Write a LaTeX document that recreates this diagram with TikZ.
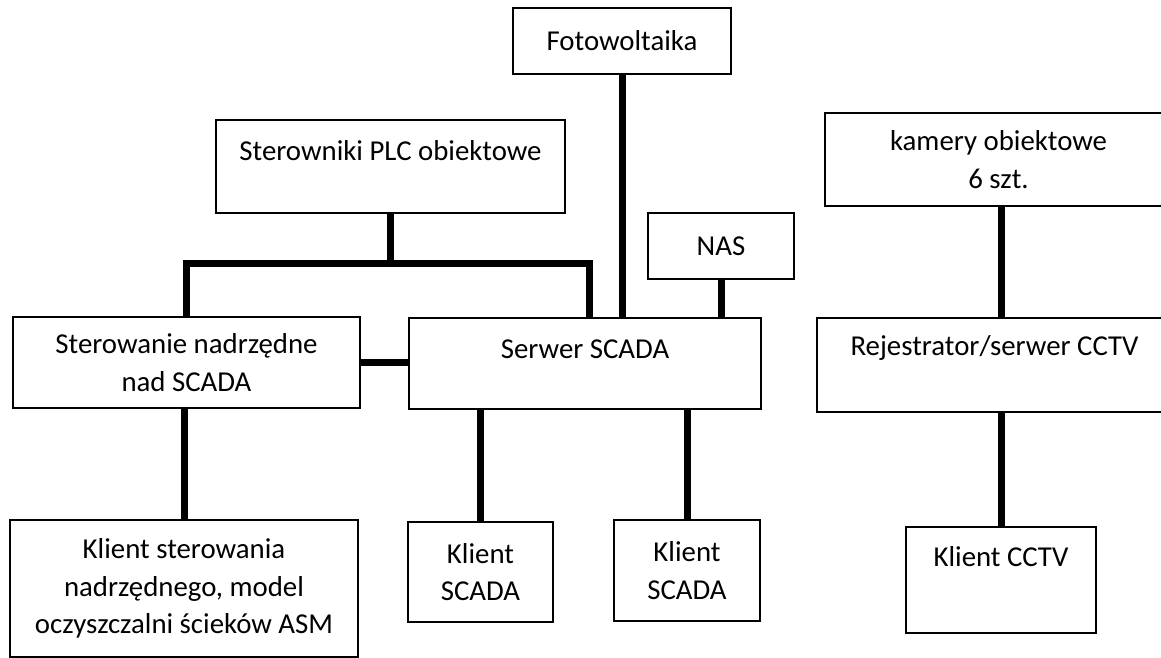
\documentclass[tikz,border=0pt]{standalone}
\usepackage{fontspec}
\setmainfont{Carlito}
\usetikzlibrary{positioning,calc}

\begin{document}
\begin{tikzpicture}[font=\fontsize{20.5}{26.8}\selectfont,
  blk/.style={draw,line width=0.55mm,inner sep=2pt,align=center},
  lbl/.style={inner sep=0pt,align=center},
  link/.style={line width=1.75mm,line join=miter}]
  \useasboundingbox (0,0) rectangle (290.25mm,-164.5mm);
  \clip (0,0) rectangle (290.25mm,-164.5mm);
  % ---- upper row ----
  \node[blk,minimum width=54.5mm,minimum height=16.5mm]
     (foto) at (155.5mm,-10.25mm) {Fotowoltaika};
  \node[blk,minimum width=87.25mm,minimum height=23.25mm]
     (plc) at (97.625mm,-41.625mm) {};
  \node[lbl] at ($(plc.center)+(0,4.1mm)$) {Sterowniki PLC obiektowe};
  \node[blk,minimum width=36.5mm,minimum height=16.5mm]
     (nas) at (180.25mm,-61.5mm) {NAS};
  \node[blk,minimum width=86.75mm,minimum height=23.25mm]
     (kam) at (249.625mm,-39.875mm) {kamery obiektowe\\6 szt.};
  % ---- middle row ----
  \node[blk,minimum width=86.75mm,minimum height=22.75mm]
     (ster) at (46.625mm,-90.625mm) {Sterowanie nadrzędne\\nad SCADA};
  \node[blk,minimum width=88mm,minimum height=22.75mm]
     (serw) at (146.25mm,-90.875mm) {};
  \node[lbl] at ($(serw.center)+(0,3.6mm)$) {Serwer SCADA};
  \node[blk,minimum width=88.75mm,minimum height=23.5mm]
     (rej) at (248.625mm,-91.25mm) {};
  \node[lbl] at ($(rej.center)+(0,4.25mm)$) {Rejestrator/serwer CCTV};
  % ---- lower row ----
  \node[blk,minimum width=87mm,minimum height=34.25mm] (kster) at (46mm,-147.125mm)
     {Klient sterowania\\nadrzędnego, model\\oczyszczalni ścieków ASM};
  \node[blk,minimum width=36.25mm,minimum height=25mm]
     (kscada1) at (120.125mm,-143mm) {Klient\\SCADA};
  \node[blk,minimum width=36.5mm,minimum height=25.25mm]
     (kscada2) at (171.75mm,-142.625mm) {Klient\\SCADA};
  \node[blk,minimum width=47.5mm,minimum height=26.5mm]
     (kcctv) at (250.25mm,-145mm) {};
  \node[lbl] at ($(kcctv.center)+(0,5.75mm)$) {Klient CCTV};
  % ---- links ----
  \draw[link] (plc.south) -- ++(0,-12.25mm) coordinate (bus);
  \draw[link] (ster.north) |- (bus) -| ([xshift=1mm]serw.north);
  \draw[link] (foto.south) -- (foto.south |- serw.north);
  \draw[link] (nas.south) -- (nas.south |- serw.north);
  \draw[link] (ster.east) -- (ster.east -| serw.west);
  \draw[link] (ster.south -| kster.north) -- (kster.north);
  \draw[link] (kscada1.north) -- (kscada1.north |- serw.south);
  \draw[link] (kscada2.north) -- (kscada2.north |- serw.south);
  \draw[link] (kam.south -| kcctv.north) -- (kcctv.north |- rej.north);
  \draw[link] (rej.south -| kcctv.north) -- (kcctv.north);
\end{tikzpicture}
\end{document}
